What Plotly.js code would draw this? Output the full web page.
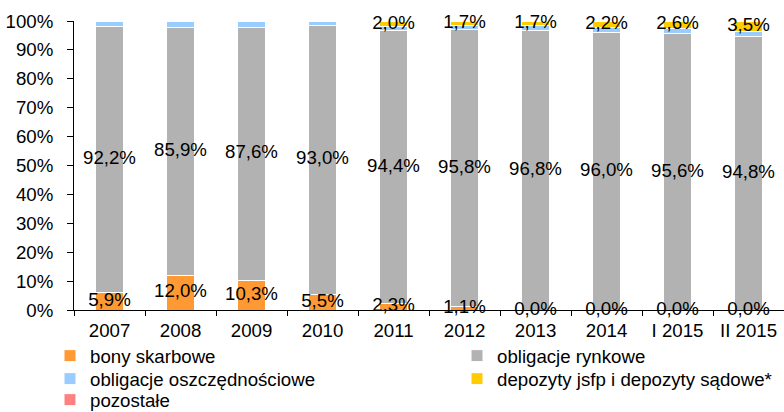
<!DOCTYPE html>
<html><head><meta charset="utf-8">
<script src="https://cdn.plot.ly/plotly-3.0.1.min.js"></script>
<style>body{margin:0;background:#fff}#c{width:784px;height:412px}</style>
</head><body><div id="c"></div>
<script>
const categories = ["2007","2008","2009","2010","2011","2012","2013","2014","I 2015","II 2015"];
const bony = [5.9,12.0,10.3,5.5,2.3,1.1,0.0,0.0,0.0,0.0];
const rynkowe = [92.2,85.9,87.6,93.0,94.4,95.8,96.8,96.0,95.6,94.8];
const oszczednosciowe = [1.8,2.0,2.1,1.4,1.3,1.4,1.5,1.8,1.8,1.7];
const depozyty = [0,0,0,0,2.0,1.7,1.7,2.2,2.6,3.5];
const pozostale = [0.1,0.1,0,0.1,0,0,0,0,0,0];

const names = ["bony skarbowe","obligacje rynkowe","obligacje oszczędnościowe","depozyty jsfp i depozyty sądowe*","pozostałe"];
const colors = ["#ff9933","#b2b2b2","#99ccff","#ffcc00","#ff8080"];
const series = [bony, rynkowe, oszczednosciowe, depozyty, pozostale];

const fmt = v => v.toFixed(1).replace('.', ',') + '%';
const font = {family:"Liberation Sans, Arial, sans-serif", size:18.67, color:"#000"};

const legendIds = ['legend','legend2','legend3','legend4','legend5'];
const traces = series.map((s,i)=>({
  type:'bar', x:categories, y:s, name:names[i], legend:legendIds[i],
  marker:{color:colors[i], line:{color:'#ffffff', width:1}},
  hoverinfo:'skip'
}));

function centers(idx){
  return categories.map((c,j)=>{
    let base=0; for(let k=0;k<idx;k++) base+=series[k][j];
    return base + series[idx][j]/2;
  });
}
[0,1,3].forEach(idx=>{
  const xs=[], ys=[], ts=[];
  const cs = centers(idx);
  categories.forEach((c,j)=>{
    if(idx===3 && j<4) return;
    xs.push(c); ys.push(cs[j]); ts.push(fmt(series[idx][j]));
  });
  traces.push({type:'scatter', mode:'text', x:xs, y:ys, text:ts, textposition:'middle center',
    textfont:font, showlegend:false, hoverinfo:'skip', cliponaxis:false});
});

const colX = [50, 457];
const rowTop = [337, 360, 381];
function leg(i){
  const col = i % 2, row = Math.floor(i/2);
  return {orientation:'v', xref:'container', yref:'container', x:colX[col]/784, y:(412-rowTop[row])/412,
    xanchor:'left', yanchor:'top', font:font, bgcolor:'rgba(0,0,0,0)', itemwidth:30};
}

const layout = {
  width:784, height:412, autosize:false,
  margin:{l:74, r:0, t:21, b:102, autoexpand:false},
  barmode:'stack', bargap:0.6,
  paper_bgcolor:'#fff', plot_bgcolor:'#fff',
  font:font,
  showlegend:true,
  xaxis:{type:'category', categoryorder:'array', categoryarray:categories,
    showline:true, linecolor:'#000', linewidth:1, ticks:'outside', tickson:'boundaries',
    ticklen:5, tickcolor:'#000', tickfont:font, ticklabelstandoff:4, showgrid:false, automargin:false},
  yaxis:{range:[0,100], dtick:10, ticksuffix:'%', showline:true, linecolor:'#000', linewidth:1,
    ticks:'outside', ticklen:6, tickcolor:'#000', tickfont:font, ticklabelstandoff:10, showgrid:false, zeroline:false, automargin:false},
  legend:leg(0), legend2:leg(1), legend3:leg(2), legend4:leg(3), legend5:leg(4)
};
Plotly.newPlot('c', traces, layout, {displayModeBar:false, staticPlot:true});
</script></body></html>
